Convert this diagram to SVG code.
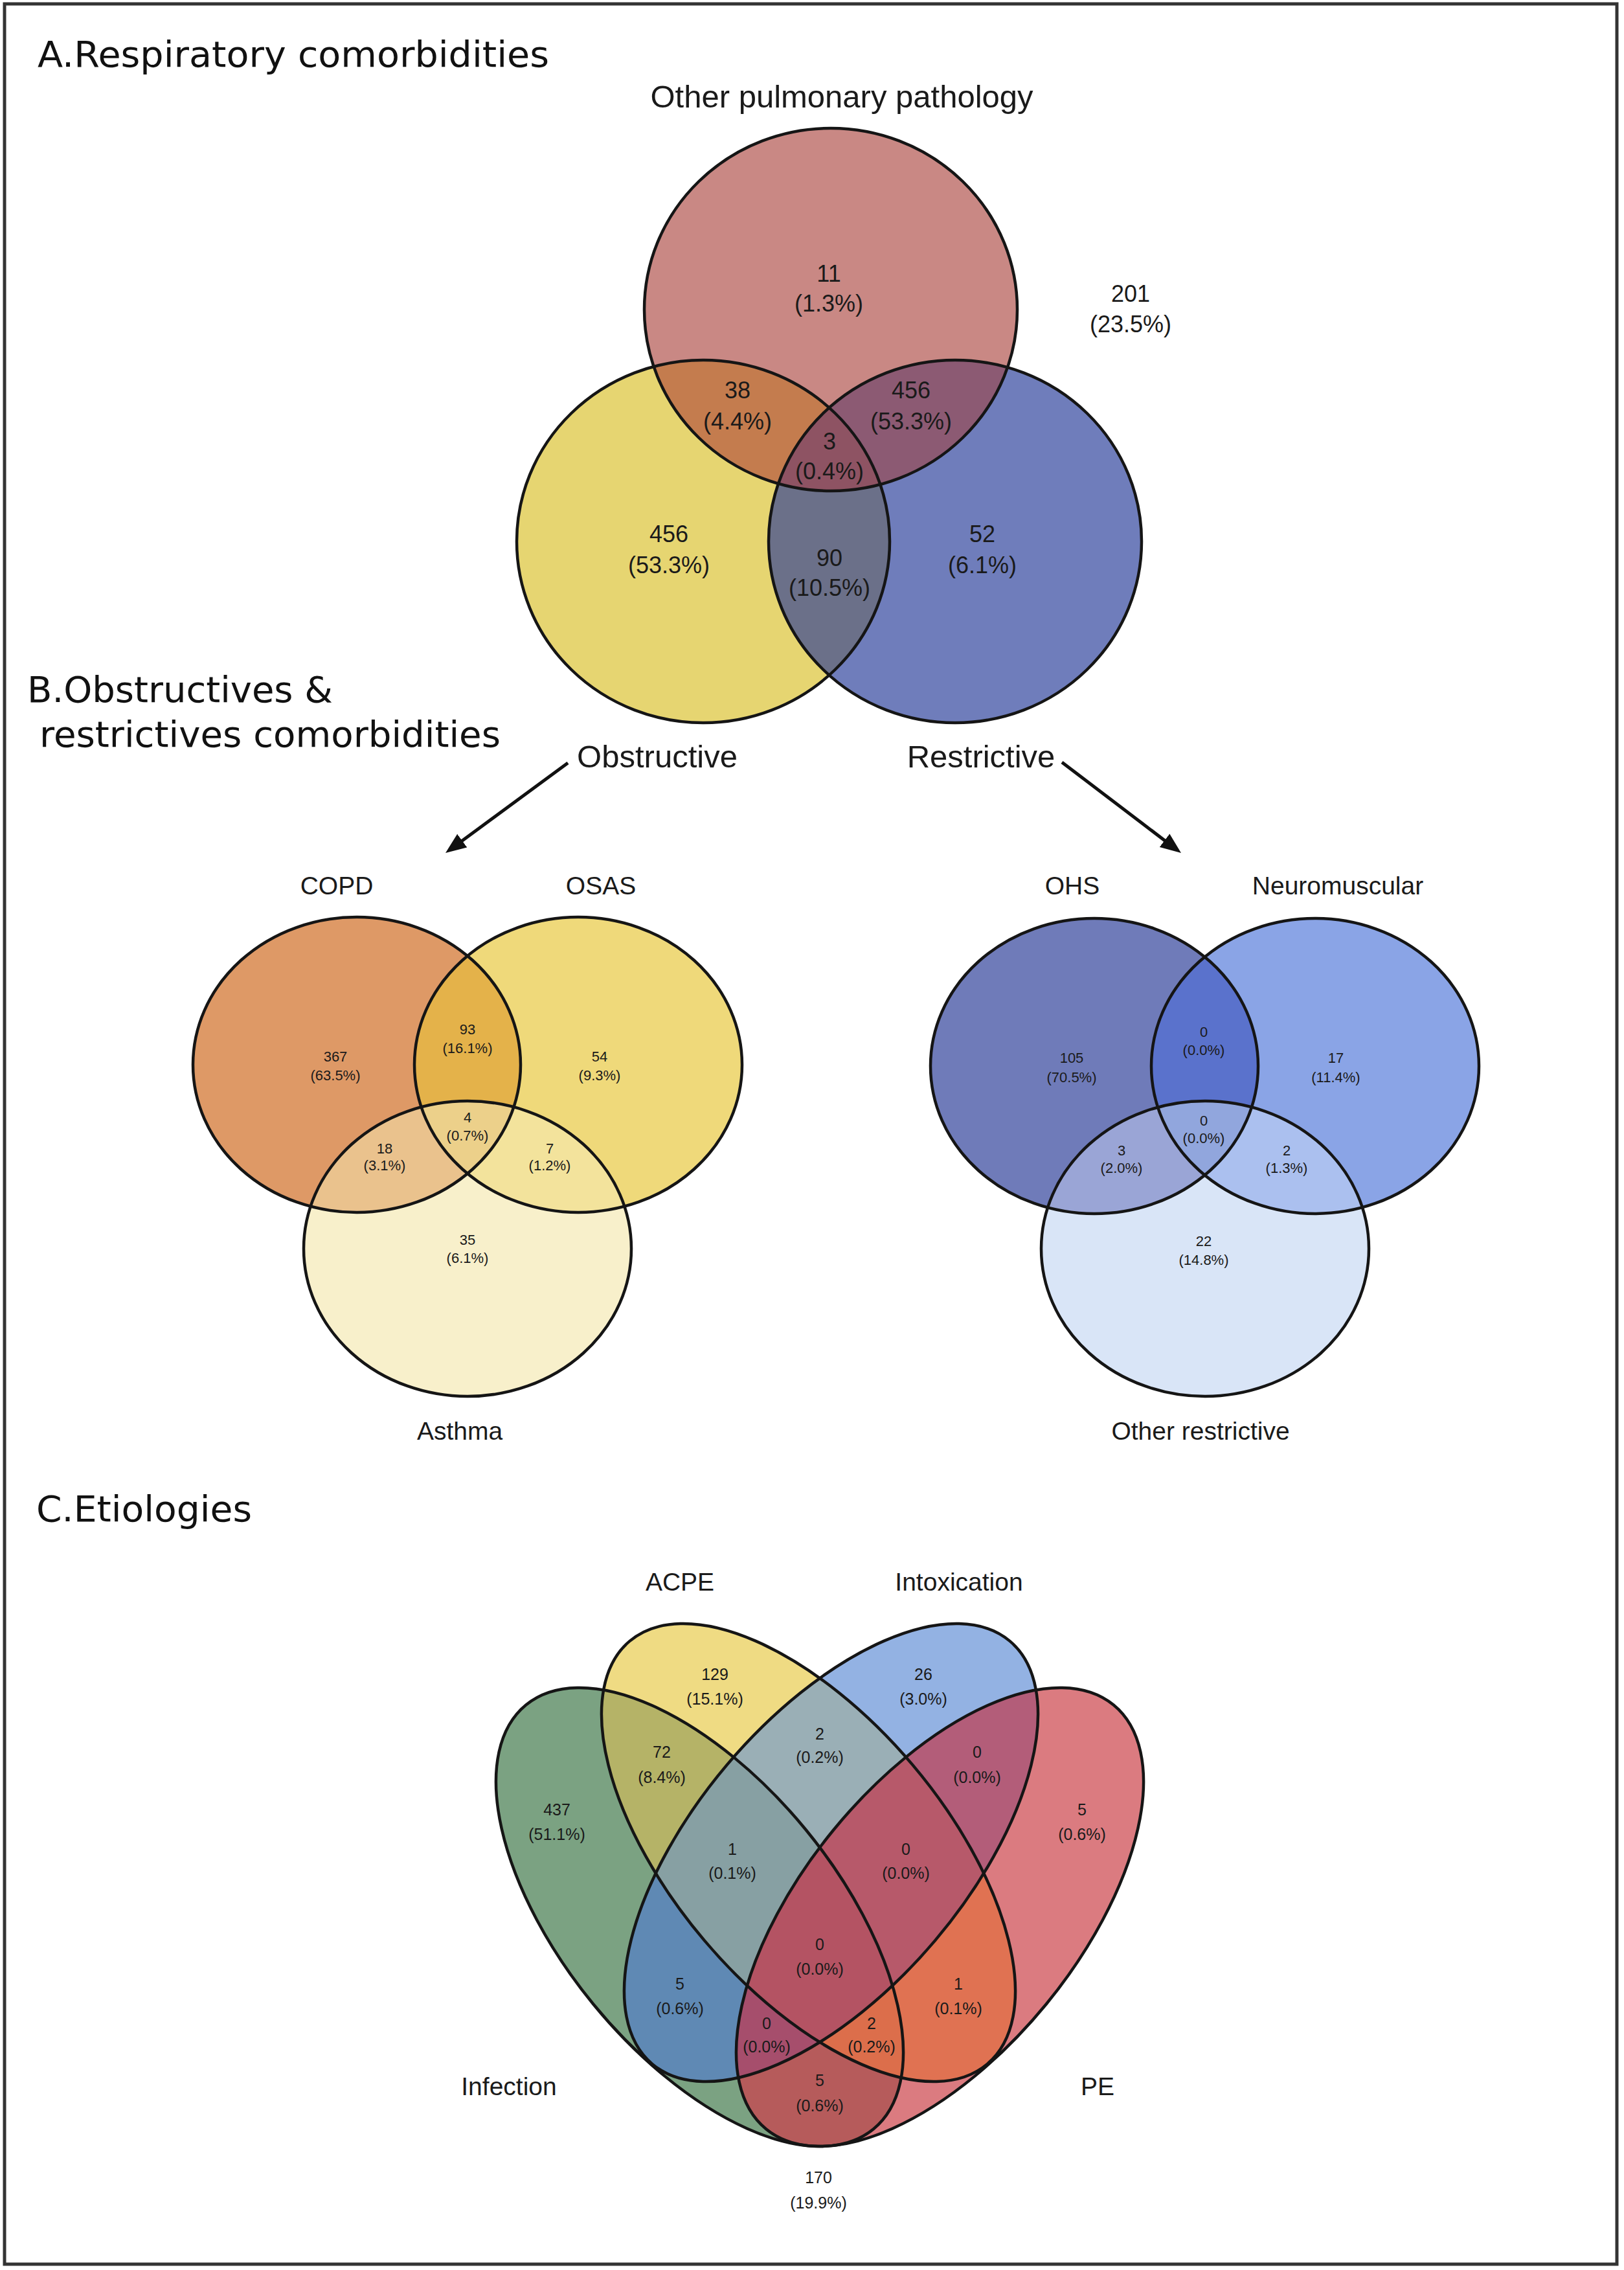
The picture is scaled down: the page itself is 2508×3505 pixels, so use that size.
<svg xmlns="http://www.w3.org/2000/svg" width="2508" height="3505" viewBox="0 0 2508 3505">
<style>
.title{font-family:"DejaVu Sans","Liberation Sans",sans-serif;font-size:55px;fill:#111}
.lbl{font-family:"Liberation Sans",Arial,sans-serif;fill:#1a1a1a;text-anchor:middle}
.sa{font-size:49px}
.sb{font-size:39px}
.na{font-size:36px}
.nb{font-size:22px}
.nc{font-size:25px}
.ol{fill:none;stroke:#151515;stroke-width:4.5}
.arrow{stroke:#111;stroke-width:5;fill:none}
</style>
<defs>
  <!-- A -->
  <ellipse id="eAo" cx="1283" cy="478" rx="288" ry="280"/>
  <ellipse id="eAb" cx="1086" cy="836" rx="288" ry="280"/>
  <ellipse id="eAr" cx="1475" cy="836" rx="288" ry="280"/>
  <!-- B left -->
  <ellipse id="eCopd" cx="551" cy="1644" rx="253" ry="228"/>
  <ellipse id="eOsas" cx="893" cy="1644" rx="253" ry="228"/>
  <ellipse id="eAst" cx="722" cy="1928" rx="253" ry="228"/>
  <!-- B right -->
  <ellipse id="eOhs" cx="1690" cy="1646" rx="253" ry="228"/>
  <ellipse id="eNm" cx="2031" cy="1646" rx="253" ry="228"/>
  <ellipse id="eOr" cx="1861" cy="1928" rx="253" ry="228"/>
  <!-- C -->
  <ellipse id="eG" rx="423.3" ry="212.3" transform="translate(1080.5 2960) rotate(50.68)"/>
  <ellipse id="eY" rx="427.6" ry="210.3" transform="translate(1248.5 2860.5) rotate(49.75)"/>
  <ellipse id="eB" rx="427.6" ry="210.3" transform="translate(1283.5 2860.5) rotate(-49.75)"/>
  <ellipse id="eR" rx="423.3" ry="212.3" transform="translate(1451.5 2960) rotate(-50.68)"/>

  <clipPath id="cAo"><use href="#eAo"/></clipPath>
  <clipPath id="cAb"><use href="#eAb"/></clipPath>
  <clipPath id="cCopd"><use href="#eCopd"/></clipPath>
  <clipPath id="cOsas"><use href="#eOsas"/></clipPath>
  <clipPath id="cOhs"><use href="#eOhs"/></clipPath>
  <clipPath id="cNm"><use href="#eNm"/></clipPath>
  <clipPath id="cG"><use href="#eG"/></clipPath>
  <clipPath id="cY"><use href="#eY"/></clipPath>
  <clipPath id="cB"><use href="#eB"/></clipPath>

  <marker id="ah" viewBox="0 0 10 8" refX="3.75" refY="4" markerWidth="32" markerHeight="26" markerUnits="userSpaceOnUse" orient="auto">
    <path d="M0,0 L10,4 L0,8 z" fill="#111"/>
  </marker>
</defs>

<rect x="0" y="0" width="2508" height="3505" fill="#ffffff"/>
<rect id="frame" x="7" y="6" width="2490" height="3490" fill="none" stroke="#333" stroke-width="5"/>

<!-- Titles -->
<g id="titles">
  <text class="title" x="58" y="103" textLength="790" lengthAdjust="spacingAndGlyphs">A.Respiratory comorbidities</text>
  <text class="title" x="42" y="1084" textLength="472" lengthAdjust="spacingAndGlyphs">B.Obstructives &amp;</text>
  <text class="title" x="61" y="1153" textLength="712" lengthAdjust="spacingAndGlyphs">restrictives comorbidities</text>
  <text class="title" x="56" y="2349" textLength="333" lengthAdjust="spacingAndGlyphs">C.Etiologies</text>
</g>

<!-- ===== A: region fills ===== -->
<g id="A-regions">
  <use href="#eAo" fill="#c98884"/>
  <use href="#eAb" fill="#e6d571"/>
  <use href="#eAr" fill="#6f7dbb"/>
  <g clip-path="url(#cAo)"><use href="#eAb" fill="#c47c4e"/></g>
  <g clip-path="url(#cAo)"><use href="#eAr" fill="#8c5a73"/></g>
  <g clip-path="url(#cAb)"><use href="#eAr" fill="#6b7089"/></g>
  <g clip-path="url(#cAo)"><g clip-path="url(#cAb)"><use href="#eAr" fill="#8e5363"/></g></g>
</g>
<g id="set-other-pulmonary">
  <use href="#eAo" class="ol"/>
  <text class="lbl sa" x="1300" y="166">Other pulmonary pathology</text>
</g>
<g id="set-obstructive">
  <use href="#eAb" class="ol"/>
  <text class="lbl sa" x="1015" y="1185">Obstructive</text>
</g>
<g id="set-restrictive">
  <use href="#eAr" class="ol"/>
  <text class="lbl sa" x="1515" y="1185">Restrictive</text>
</g>
<g id="A-counts" class="lbl na">
  <text x="1280" y="435">11</text><text x="1280" y="481">(1.3%)</text>
  <text x="1139" y="615">38</text><text x="1139" y="663">(4.4%)</text>
  <text x="1407" y="615">456</text><text x="1407" y="663">(53.3%)</text>
  <text x="1281" y="694">3</text><text x="1281" y="740">(0.4%)</text>
  <text x="1033" y="837">456</text><text x="1033" y="885">(53.3%)</text>
  <text x="1281" y="874">90</text><text x="1281" y="920">(10.5%)</text>
  <text x="1517" y="837">52</text><text x="1517" y="885">(6.1%)</text>
  <text x="1746" y="466">201</text><text x="1746" y="513">(23.5%)</text>
</g>

<!-- connectors -->
<g id="connectors">
  <line class="arrow" x1="877" y1="1178" x2="704.1" y2="1305.2" marker-end="url(#ah)"/>
  <line class="arrow" x1="1640" y1="1177" x2="1808.1" y2="1304.9" marker-end="url(#ah)"/>
</g>

<!-- ===== B left ===== -->
<g id="B-obstructive-regions">
  <use href="#eCopd" fill="#de9966"/>
  <use href="#eOsas" fill="#efd97a"/>
  <use href="#eAst" fill="#f8f0cb"/>
  <g clip-path="url(#cCopd)"><use href="#eOsas" fill="#e4b24a"/></g>
  <g clip-path="url(#cCopd)"><use href="#eAst" fill="#eac28d"/></g>
  <g clip-path="url(#cOsas)"><use href="#eAst" fill="#f3e39c"/></g>
  <g clip-path="url(#cCopd)"><g clip-path="url(#cOsas)"><use href="#eAst" fill="#ecd08a"/></g></g>
</g>
<g id="set-copd">
  <use href="#eCopd" class="ol"/>
  <text class="lbl sb" x="520" y="1381">COPD</text>
</g>
<g id="set-osas">
  <use href="#eOsas" class="ol"/>
  <text class="lbl sb" x="928" y="1381">OSAS</text>
</g>
<g id="set-asthma">
  <use href="#eAst" class="ol"/>
  <text class="lbl sb" x="710" y="2223">Asthma</text>
</g>
<g id="B-obstructive-counts" class="lbl nb">
  <text x="518" y="1639">367</text><text x="518" y="1668">(63.5%)</text>
  <text x="722" y="1597">93</text><text x="722" y="1626">(16.1%)</text>
  <text x="926" y="1639">54</text><text x="926" y="1668">(9.3%)</text>
  <text x="722" y="1733">4</text><text x="722" y="1761">(0.7%)</text>
  <text x="594" y="1781">18</text><text x="594" y="1807">(3.1%)</text>
  <text x="849" y="1781">7</text><text x="849" y="1807">(1.2%)</text>
  <text x="722" y="1922">35</text><text x="722" y="1950">(6.1%)</text>
</g>

<!-- ===== B right ===== -->
<g id="B-restrictive-regions">
  <use href="#eOhs" fill="#6f7bb9"/>
  <use href="#eNm" fill="#8aa4e6"/>
  <use href="#eOr" fill="#d9e5f7"/>
  <g clip-path="url(#cOhs)"><use href="#eNm" fill="#5a72cc"/></g>
  <g clip-path="url(#cOhs)"><use href="#eOr" fill="#9aa5d6"/></g>
  <g clip-path="url(#cNm)"><use href="#eOr" fill="#abc0ef"/></g>
  <g clip-path="url(#cOhs)"><g clip-path="url(#cNm)"><use href="#eOr" fill="#91a6dd"/></g></g>
</g>
<g id="set-ohs">
  <use href="#eOhs" class="ol"/>
  <text class="lbl sb" x="1656" y="1381">OHS</text>
</g>
<g id="set-neuromuscular">
  <use href="#eNm" class="ol"/>
  <text class="lbl sb" x="2066" y="1381">Neuromuscular</text>
</g>
<g id="set-other-restrictive">
  <use href="#eOr" class="ol"/>
  <text class="lbl sb" x="1854" y="2223">Other restrictive</text>
</g>
<g id="B-restrictive-counts" class="lbl nb">
  <text x="1655" y="1641">105</text><text x="1655" y="1671">(70.5%)</text>
  <text x="1859" y="1601">0</text><text x="1859" y="1629">(0.0%)</text>
  <text x="2063" y="1641">17</text><text x="2063" y="1671">(11.4%)</text>
  <text x="1859" y="1738">0</text><text x="1859" y="1765">(0.0%)</text>
  <text x="1732" y="1784">3</text><text x="1732" y="1811">(2.0%)</text>
  <text x="1987" y="1784">2</text><text x="1987" y="1811">(1.3%)</text>
  <text x="1859" y="1924">22</text><text x="1859" y="1953">(14.8%)</text>
</g>

<!-- ===== C ===== -->
<g id="C-regions">
  <use href="#eG" fill="#7ba282"/>
  <use href="#eY" fill="#efdb83"/>
  <use href="#eB" fill="#93b2e3"/>
  <use href="#eR" fill="#db7b80"/>
  <g clip-path="url(#cG)"><use href="#eY" fill="#b5b367"/></g>
  <g clip-path="url(#cG)"><use href="#eB" fill="#5f89b4"/></g>
  <g clip-path="url(#cG)"><use href="#eR" fill="#b65b5b"/></g>
  <g clip-path="url(#cY)"><use href="#eB" fill="#9aafb6"/></g>
  <g clip-path="url(#cY)"><use href="#eR" fill="#e07252"/></g>
  <g clip-path="url(#cB)"><use href="#eR" fill="#b35d79"/></g>
  <g clip-path="url(#cG)"><g clip-path="url(#cY)"><use href="#eB" fill="#87a0a3"/></g></g>
  <g clip-path="url(#cG)"><g clip-path="url(#cY)"><use href="#eR" fill="#dc6e4b"/></g></g>
  <g clip-path="url(#cG)"><g clip-path="url(#cB)"><use href="#eR" fill="#a64e6c"/></g></g>
  <g clip-path="url(#cY)"><g clip-path="url(#cB)"><use href="#eR" fill="#b7596a"/></g></g>
  <g clip-path="url(#cG)"><g clip-path="url(#cY)"><g clip-path="url(#cB)"><use href="#eR" fill="#b45363"/></g></g></g>
</g>
<g id="set-infection">
  <use href="#eG" class="ol"/>
  <text class="lbl sb" x="786" y="3235">Infection</text>
</g>
<g id="set-acpe">
  <use href="#eY" class="ol"/>
  <text class="lbl sb" x="1050" y="2456">ACPE</text>
</g>
<g id="set-intoxication">
  <use href="#eB" class="ol"/>
  <text class="lbl sb" x="1481" y="2456">Intoxication</text>
</g>
<g id="set-pe">
  <use href="#eR" class="ol"/>
  <text class="lbl sb" x="1695" y="3235">PE</text>
</g>
<g id="C-counts" class="lbl nc">
  <text x="1104" y="2594">129</text><text x="1104" y="2632">(15.1%)</text>
  <text x="1426" y="2594">26</text><text x="1426" y="2632">(3.0%)</text>
  <text x="1022" y="2714">72</text><text x="1022" y="2753">(8.4%)</text>
  <text x="1266" y="2686">2</text><text x="1266" y="2722">(0.2%)</text>
  <text x="1509" y="2714">0</text><text x="1509" y="2753">(0.0%)</text>
  <text x="860" y="2803">437</text><text x="860" y="2841">(51.1%)</text>
  <text x="1671" y="2803">5</text><text x="1671" y="2841">(0.6%)</text>
  <text x="1131" y="2864">1</text><text x="1131" y="2901">(0.1%)</text>
  <text x="1399" y="2864">0</text><text x="1399" y="2901">(0.0%)</text>
  <text x="1266" y="3011">0</text><text x="1266" y="3049">(0.0%)</text>
  <text x="1050" y="3072">5</text><text x="1050" y="3110">(0.6%)</text>
  <text x="1480" y="3072">1</text><text x="1480" y="3110">(0.1%)</text>
  <text x="1184" y="3133">0</text><text x="1184" y="3169">(0.0%)</text>
  <text x="1346" y="3133">2</text><text x="1346" y="3169">(0.2%)</text>
  <text x="1266" y="3221">5</text><text x="1266" y="3260">(0.6%)</text>
  <text x="1264" y="3371">170</text><text x="1264" y="3410">(19.9%)</text>
</g>
</svg>
